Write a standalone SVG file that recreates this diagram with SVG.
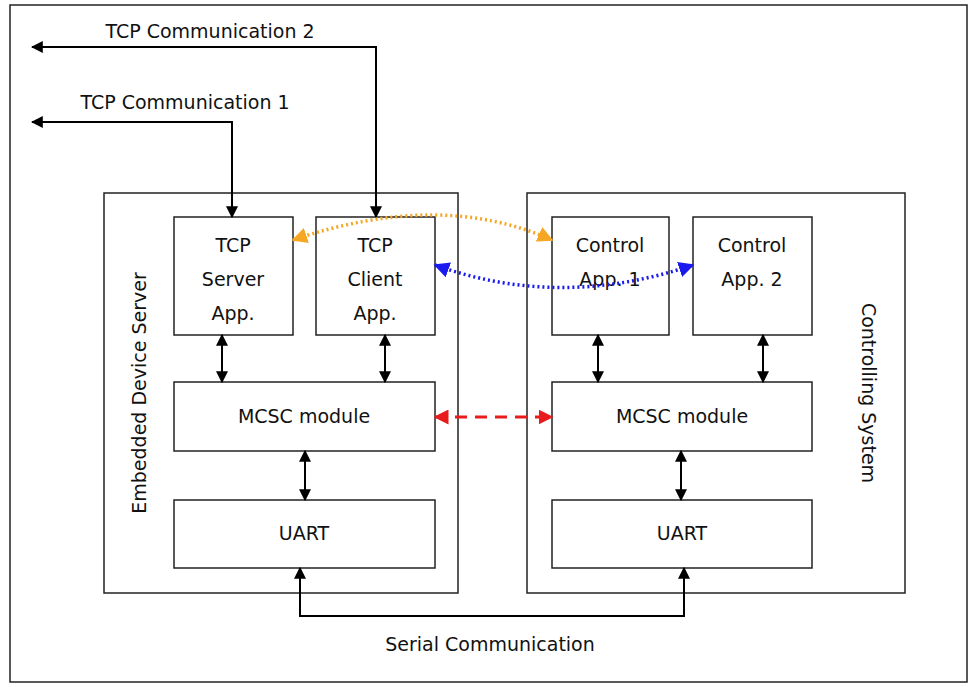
<svg xmlns="http://www.w3.org/2000/svg" width="973" height="687" viewBox="0 0 973 687">
<defs>
<marker id="a" viewBox="0 0 10 10" refX="9" refY="5" markerWidth="6" markerHeight="6" orient="auto-start-reverse"><path d="M0,0L10,5L0,10z" fill="#000"/></marker>
<marker id="o" viewBox="0 0 10 10" refX="9" refY="5" markerWidth="4.5" markerHeight="4.5" orient="auto-start-reverse"><path d="M0,0L10,5L0,10z" fill="#f5a623"/></marker>
<marker id="b" viewBox="0 0 10 10" refX="9" refY="5" markerWidth="4.5" markerHeight="4.5" orient="auto-start-reverse"><path d="M0,0L10,5L0,10z" fill="#1a1aee"/></marker>
<marker id="r" viewBox="0 0 10 10" refX="9" refY="5" markerWidth="5" markerHeight="5" orient="auto-start-reverse"><path d="M0,0L10,5L0,10z" fill="#e81c1c"/></marker>
</defs>
<style>
rect{fill:#fff;stroke:#222;stroke-width:1.5}
text{font-family:Verdana,"DejaVu Sans",sans-serif;font-size:19px;fill:#111;text-anchor:middle}
.c{fill:none;stroke:#000;stroke-width:2}
</style>
<rect x="0" y="0" width="973" height="687" style="stroke:none"/>
<rect x="10" y="5" width="957" height="677"/>
<g id="eds"><rect x="104" y="193" width="354" height="400"/><text transform="translate(146,393) rotate(-90)">Embedded Device Server</text></g>
<g id="cs"><rect x="527" y="193" width="378" height="400"/><text transform="translate(862,393) rotate(90)">Controlling System</text></g>
<g id="tcps"><rect x="174" y="217" width="119" height="118"/><text x="233" y="252">TCP</text><text x="233" y="286">Server</text><text x="233" y="320">App.</text></g>
<g id="tcpc"><rect x="316" y="217" width="119" height="118"/><text x="375" y="252">TCP</text><text x="375" y="286">Client</text><text x="375" y="320">App.</text></g>
<g id="mcscl"><rect x="174" y="382" width="261" height="69"/><text x="304" y="423">MCSC module</text></g>
<g id="uartl"><rect x="174" y="500" width="261" height="68"/><text x="304" y="540">UART</text></g>
<g id="ca1"><rect x="552" y="217" width="117" height="118"/><text x="610" y="252">Control</text><text x="610" y="286">App. 1</text></g>
<g id="ca2"><rect x="693" y="217" width="119" height="118"/><text x="752" y="252">Control</text><text x="752" y="286">App. 2</text></g>
<g id="mcscr"><rect x="552" y="382" width="260" height="69"/><text x="682" y="423">MCSC module</text></g>
<g id="uartr"><rect x="552" y="500" width="260" height="68"/><text x="682" y="540">UART</text></g>
<text x="210" y="38">TCP Communication 2</text>
<text x="185" y="109">TCP Communication 1</text>
<text x="490" y="651">Serial Communication</text>
<g id="connectors">
<path class="c" d="M376,217V47H32" marker-start="url(#a)" marker-end="url(#a)"/>
<path class="c" d="M232,217V122H32" marker-start="url(#a)" marker-end="url(#a)"/>
<path class="c" d="M300,568V616H684V568" marker-start="url(#a)" marker-end="url(#a)"/>
<path class="c" d="M222,335V382" marker-start="url(#a)" marker-end="url(#a)"/>
<path class="c" d="M385,335V382" marker-start="url(#a)" marker-end="url(#a)"/>
<path class="c" d="M305,451V500" marker-start="url(#a)" marker-end="url(#a)"/>
<path class="c" d="M598,335V382" marker-start="url(#a)" marker-end="url(#a)"/>
<path class="c" d="M763,335V382" marker-start="url(#a)" marker-end="url(#a)"/>
<path class="c" d="M681,451V500" marker-start="url(#a)" marker-end="url(#a)"/>
<path d="M293,240Q440,190 552,240" fill="none" stroke="#f5a623" stroke-width="3.5" stroke-dasharray="2 3" marker-start="url(#o)" marker-end="url(#o)"/>
<path d="M435,265Q560,310 693,265" fill="none" stroke="#1a1aee" stroke-width="3.5" stroke-dasharray="2 3" marker-start="url(#b)" marker-end="url(#b)"/>
<path d="M435,417H552" fill="none" stroke="#e81c1c" stroke-width="3" stroke-dasharray="12 8" marker-start="url(#r)" marker-end="url(#r)"/>
</g>
</svg>
